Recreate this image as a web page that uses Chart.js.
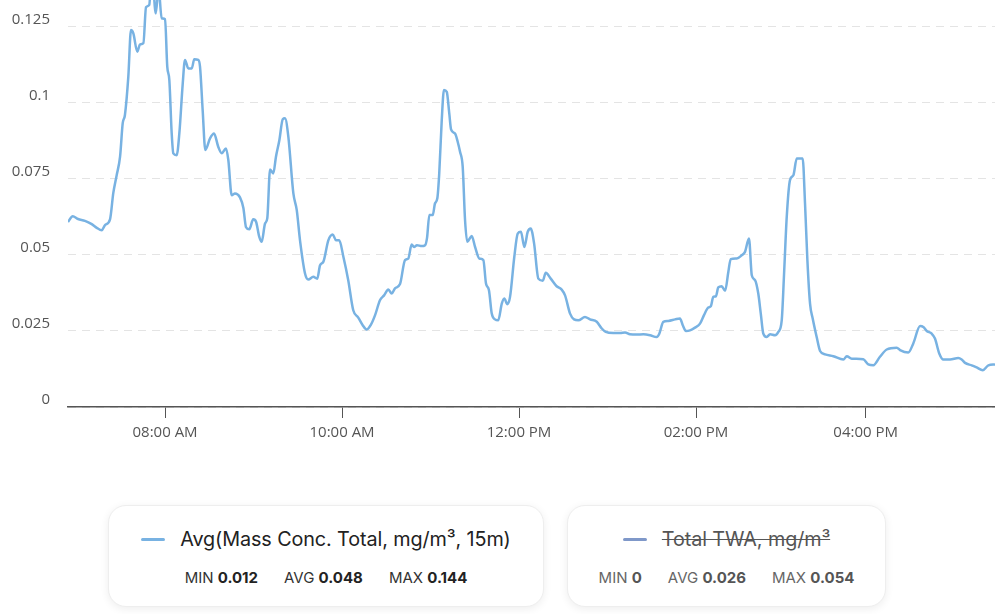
<!DOCTYPE html>
<html>
<head>
<meta charset="utf-8">
<script src="https://cdn.jsdelivr.net/npm/chart.js@4/dist/chart.umd.min.js"></script>
<style>
  html, body { margin: 0; padding: 0; background: #fff; }
  #wrap { position: relative; width: 995px; height: 614px; overflow: hidden; }
  #chartBox { position: absolute; left: 0; top: 0; width: 995px; height: 465px; }
  .card {
    position: absolute; top: 505px; height: 102px; box-sizing: border-box;
    background: #fff; border: 1px solid #eeeeee; border-radius: 18px;
    box-shadow: 0 2px 8px rgba(0,0,0,0.07);
    font-family: Inter, "Noto Sans", sans-serif;
    display: flex; flex-direction: column; align-items: center;
  }
  .title { display: flex; align-items: center; margin-top: 19px; height: 28px; }
  .swatch { width: 24px; height: 3px; border-radius: 2px; margin-right: 15px; }
  .name { font-size: 19.8px; color: #222; letter-spacing: -0.1px; }
  .stats { display: flex; gap: 26px; margin-top: 15px; font-size: 15px; color: #333; }
  .stats b { font-weight: 700; color: #222; }
  .off .name { color: #555; text-decoration: line-through; }
  .off .stats { color: #666; }
  .off .stats b { color: #555; }
</style>
</head>
<body>
<div id="wrap">
  <div id="chartBox"><canvas id="Chart1"></canvas></div>
  <div id="legend"></div>
</div>
<script>
// chart values (time = minutes after midnight)

const timeMinutes = [
  414.2, 417.4, 421.0, 425.7, 430.3, 433.7, 437.1, 439.3, 442.7, 444.9,
  447.2, 449.5, 451.3, 452.8, 455.1, 456.9, 458.5, 461.2, 463.0, 465.3,
  467.1, 469.3, 471.0, 473.7, 475.6, 477.7, 480.0, 481.5, 482.9, 484.5,
  485.6, 487.9, 489.7, 492.0, 493.5, 495.8, 498.1, 499.8, 502.5, 503.7,
  505.5, 507.3, 510.5, 513.2, 516.1, 518.4, 521.3, 522.9, 525.2, 527.4,
  530.8, 533.1, 534.9, 537.1, 539.8, 541.7, 543.9, 545.5, 547.8, 549.3,
  551.2, 553.4, 555.2, 557.5, 559.8, 561.3, 563.6, 567.0, 569.3, 571.5,
  574.9, 577.1, 580.5, 583.2, 585.1, 587.3, 590.7, 593.7, 595.9, 598.1,
  600.9, 604.2, 607.6, 611.0, 614.0, 616.7, 619.4, 622.4, 625.7, 628.5,
  631.4, 633.7, 635.9, 639.3, 642.7, 644.9, 647.2, 648.8, 650.8, 654.0,
  656.3, 657.6, 659.2, 661.5, 663.0, 664.6, 665.9, 667.6, 669.1, 671.0,
  672.7, 673.9, 676.6, 678.4, 680.0, 681.8, 683.4, 684.9, 687.9, 690.2,
  693.1, 695.8, 697.6, 699.6, 701.5, 703.7, 705.9, 708.3, 710.0, 712.1,
  713.9, 716.8, 719.1, 721.3, 723.6, 725.9, 727.9, 730.2, 733.1, 736.1,
  738.1, 741.5, 745.5, 748.9, 751.2, 754.6, 757.3, 760.2, 764.7, 768.1,
  772.7, 776.1, 778.8, 783.9, 788.5, 791.9, 795.2, 799.8, 804.3, 808.8,
  813.3, 815.1, 817.8, 821.2, 825.8, 829.1, 831.0, 833.2, 835.9, 839.3,
  842.7, 845.4, 848.3, 850.0, 851.7, 853.5, 855.1, 857.4, 859.7, 861.9,
  863.5, 867.6, 871.0, 873.2, 875.9, 877.8, 880.0, 882.2, 883.9, 885.6,
  887.9, 890.2, 893.6, 895.8, 898.1, 899.7, 901.5, 903.7, 906.0, 908.3,
  912.3, 913.9, 915.5, 917.3, 919.1, 921.8, 924.1, 927.5, 933.1, 939.9,
  942.2, 945.6, 953.4, 956.8, 960.2, 964.7, 969.3, 976.1, 978.3, 983.9,
  987.3, 991.9, 994.1, 996.4, 999.8, 1002.0, 1004.9, 1007.7, 1012.2, 1017.8,
  1020.1, 1022.4, 1026.9, 1030.3, 1034.4, 1038.2, 1042.7
];

const massConc = [
  0.0608, 0.0627, 0.0618, 0.0612, 0.0601, 0.0589, 0.0581, 0.0598, 0.0617, 0.0703,
  0.0762, 0.0823, 0.0933, 0.0960, 0.1086, 0.1239, 0.1228, 0.1168, 0.1192, 0.1196,
  0.1314, 0.1322, 0.1440, 0.1294, 0.1378, 0.1278, 0.1275, 0.1119, 0.1075, 0.0900,
  0.0834, 0.0828, 0.0900, 0.1064, 0.1141, 0.1113, 0.1113, 0.1143, 0.1141, 0.1119,
  0.0976, 0.0845, 0.0883, 0.0899, 0.0855, 0.0834, 0.0850, 0.0812, 0.0696, 0.0702,
  0.0689, 0.0654, 0.0591, 0.0584, 0.0617, 0.0609, 0.0559, 0.0543, 0.0603, 0.0620,
  0.0781, 0.0768, 0.0823, 0.0877, 0.0946, 0.0949, 0.0888, 0.0702, 0.0647, 0.0548,
  0.0439, 0.0419, 0.0428, 0.0422, 0.0466, 0.0477, 0.0548, 0.0567, 0.0548, 0.0548,
  0.0494, 0.0417, 0.0318, 0.0294, 0.0269, 0.0255, 0.0269, 0.0302, 0.0351, 0.0367,
  0.0386, 0.0373, 0.0390, 0.0404, 0.0483, 0.0488, 0.0534, 0.0526, 0.0532, 0.0529,
  0.0532, 0.0555, 0.0631, 0.0631, 0.0669, 0.0686, 0.0768, 0.0943, 0.1042, 0.1036,
  0.0965, 0.0913, 0.0899, 0.0872, 0.0839, 0.0790, 0.0614, 0.0543, 0.0562, 0.0526,
  0.0488, 0.0483, 0.0406, 0.0384, 0.0307, 0.0288, 0.0285, 0.0340, 0.0357, 0.0338,
  0.0362, 0.0494, 0.0570, 0.0576, 0.0526, 0.0576, 0.0587, 0.0538, 0.0422, 0.0415,
  0.0441, 0.0422, 0.0397, 0.0386, 0.0367, 0.0307, 0.0288, 0.0285, 0.0296, 0.0288,
  0.0280, 0.0258, 0.0247, 0.0243, 0.0243, 0.0245, 0.0239, 0.0238, 0.0239, 0.0236,
  0.0230, 0.0241, 0.0280, 0.0283, 0.0288, 0.0291, 0.0269, 0.0250, 0.0252, 0.0261,
  0.0274, 0.0302, 0.0327, 0.0331, 0.0362, 0.0364, 0.0393, 0.0397, 0.0382, 0.0444,
  0.0486, 0.0488, 0.0499, 0.0510, 0.0554, 0.0433, 0.0417, 0.0373, 0.0307, 0.0241,
  0.0230, 0.0239, 0.0236, 0.0247, 0.0285, 0.0439, 0.0625, 0.0746, 0.0762, 0.0817,
  0.0817, 0.0669, 0.0483, 0.0340, 0.0291, 0.0230, 0.0184, 0.0173, 0.0167, 0.0156,
  0.0167, 0.0159, 0.0157, 0.0140, 0.0137, 0.0165, 0.0189, 0.0195, 0.0187, 0.0179,
  0.0209, 0.0266, 0.0263, 0.0250, 0.0241, 0.0225, 0.0176, 0.0156, 0.0156, 0.0161,
  0.0156, 0.0145, 0.0137, 0.0130, 0.0121, 0.0137, 0.0140
];

// axis ticks
const tickMinutes = [480, 600, 720, 840, 955];
const tickLabels = ['08:00 AM', '10:00 AM', '12:00 PM', '02:00 PM', '04:00 PM'];
const yTickValues = [0, 0.025, 0.05, 0.075, 0.1, 0.125];

// legend cards
const seriesNames = ['Avg(Mass Conc. Total, mg/m³, 15m)', 'Total TWA, mg/m³'];
const seriesColors = ['#78b2e2', '#7f98c9'];
const seriesHidden = [false, true];
const statMin = ['0.012', '0'];
const statAvg = ['0.048', '0.026'];
const statMax = ['0.144', '0.054'];
const cardLeft = [108, 567];
const cardWidth = [436, 319];

// build legend cards
const legend = document.getElementById('legend');
seriesNames.forEach((name, i) => {
  const card = document.createElement('div');
  card.className = 'card' + (seriesHidden[i] ? ' off' : '');
  card.style.left = cardLeft[i] + 'px';
  card.style.width = cardWidth[i] + 'px';
  card.innerHTML =
    '<div class="title"><span class="swatch" style="background:' + seriesColors[i] + '"></span>' +
    '<span class="name">' + name + '</span></div>' +
    '<div class="stats"><span>MIN <b>' + statMin[i] + '</b></span>' +
    '<span>AVG <b>' + statAvg[i] + '</b></span>' +
    '<span>MAX <b>' + statMax[i] + '</b></span></div>';
  legend.appendChild(card);
});

// the chart itself
const ctx = document.getElementById('Chart1').getContext('2d');
const Chart1 = new Chart(ctx, {
  type: 'line',
  data: {
    datasets: [{
      label: seriesNames[0],
      data: timeMinutes.map((t, i) => ({ x: t, y: massConc[i] })),
      borderColor: seriesColors[0],
      borderWidth: 2.5,
      pointRadius: 0,
      fill: false,
      cubicInterpolationMode: 'monotone'
    }]
  },
  options: {
    responsive: true,
    maintainAspectRatio: false,
    animation: false,
    layout: { padding: 0 },
    plugins: {
      legend: { display: false },
      tooltip: { enabled: false }
    },
    scales: {
      x: {
        type: 'linear',
        min: timeMinutes[0],
        max: timeMinutes[timeMinutes.length - 1],
        afterBuildTicks: (scale) => {
          scale.ticks = tickMinutes.map(v => ({ value: v }));
        },
        afterFit: (scale) => {
          scale.height = 58;
          scale.paddingLeft = 0;
          scale.paddingRight = 0;
        },
        ticks: {
          autoSkip: false,
          maxRotation: 0,
          padding: 6,
          color: '#555',
          font: { family: 'Open Sans', size: 15 },
          callback: (v, i) => tickLabels[i]
        },
        grid: {
          drawOnChartArea: false,
          drawTicks: true,
          tickLength: 11,
          color: '#555'
        },
        border: { display: true, color: '#555', width: 1.5 }
      },
      y: {
        min: 0,
        max: 0.1338,
        afterBuildTicks: (scale) => {
          scale.ticks = yTickValues.map(v => ({ value: v }));
        },
        afterFit: (scale) => {
          scale.width = 68;
          scale.paddingTop = 0;
          scale.paddingBottom = 0;
        },
        ticks: {
          padding: 18,
          labelOffset: -7,
          color: '#555',
          font: { family: 'Open Sans', size: 15 },
          callback: (v) => String(v)
        },
        grid: {
          drawTicks: false,
          color: '#e4e4e4',
          lineWidth: 1
        },
        border: { display: false, dash: [8, 6] }
      }
    }
  }
});
</script>
</body>
</html>
